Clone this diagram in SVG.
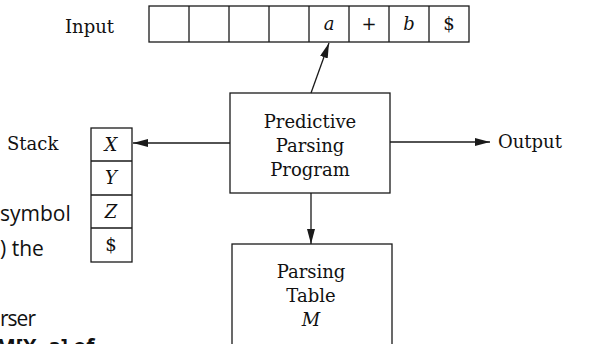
<svg xmlns="http://www.w3.org/2000/svg" width="594" height="344" viewBox="0 0 594 344">
<defs>
<style>
.ln{stroke:#1a1a1a;stroke-width:1.3;fill:none}
.box{stroke:#1a1a1a;stroke-width:1.3;fill:#fff}
.cm{font-family:"DejaVu Serif","Liberation Serif",serif;font-size:18px;fill:#111}
.ctr{text-anchor:middle}
.it{font-style:italic}
.sans{font-family:"Open Sans","Noto Sans","Liberation Sans",sans-serif;font-size:21px;fill:#111}
</style>
<marker id="ah" markerUnits="userSpaceOnUse" markerWidth="16" markerHeight="10" refX="15" refY="4" orient="auto">
<path d="M0,0 L15,4 L0,8 Z" fill="#1a1a1a"/>
</marker>
</defs>
<rect width="594" height="344" fill="#fff"/>

<g id="left-text">
<text class="sans" x="0" y="221">symbol</text>
<text class="sans" x="0" y="256">) the</text>
<text class="sans" x="0" y="326" letter-spacing="-1">rser</text>
<text class="sans" x="-4" y="354" font-weight="bold">M[X, a] of</text>
</g>

<g id="input">
<text class="cm" x="65" y="33">Input</text>
<rect class="box" x="149" y="6" width="320" height="36"/>
<path class="ln" d="M189,6V42M229,6V42M269,6V42M309,6V42M349,6V42M389,6V42M429,6V42"/>
<text class="cm ctr it" x="329" y="30">a</text>
<text class="cm ctr" x="369" y="30">+</text>
<text class="cm ctr it" x="409" y="30">b</text>
<text class="cm ctr" x="449" y="30">$</text>
</g>

<g id="stack">
<text class="cm" x="7" y="150">Stack</text>
<rect class="box" x="91" y="128" width="41" height="134"/>
<path class="ln" d="M91,161H132M91,195H132M91,228H132"/>
<text class="cm ctr it" x="111" y="151">X</text>
<text class="cm ctr it" x="111" y="184">Y</text>
<text class="cm ctr it" x="111" y="218">Z</text>
<text class="cm ctr" x="111" y="251">$</text>
</g>

<g id="program">
<rect class="box" x="230" y="93" width="160" height="100"/>
<text class="cm ctr" x="310" y="128">Predictive</text>
<text class="cm ctr" x="310" y="152">Parsing</text>
<text class="cm ctr" x="310" y="176">Program</text>
</g>

<g id="table">
<rect class="box" x="232" y="244" width="160" height="120"/>
<text class="cm ctr" x="311" y="278">Parsing</text>
<text class="cm ctr" x="311" y="302">Table</text>
<text class="cm ctr it" x="311" y="326">M</text>
</g>

<g id="output">
<text class="cm" x="498" y="148">Output</text>
</g>

<g id="connectors">
<line class="ln" x1="311" y1="93" x2="329" y2="43" marker-end="url(#ah)"/>
<line class="ln" x1="230" y1="143" x2="133" y2="143" marker-end="url(#ah)"/>
<line class="ln" x1="390" y1="142" x2="490" y2="142" marker-end="url(#ah)"/>
<line class="ln" x1="311" y1="193" x2="311" y2="244" marker-end="url(#ah)"/>
</g>
</svg>
